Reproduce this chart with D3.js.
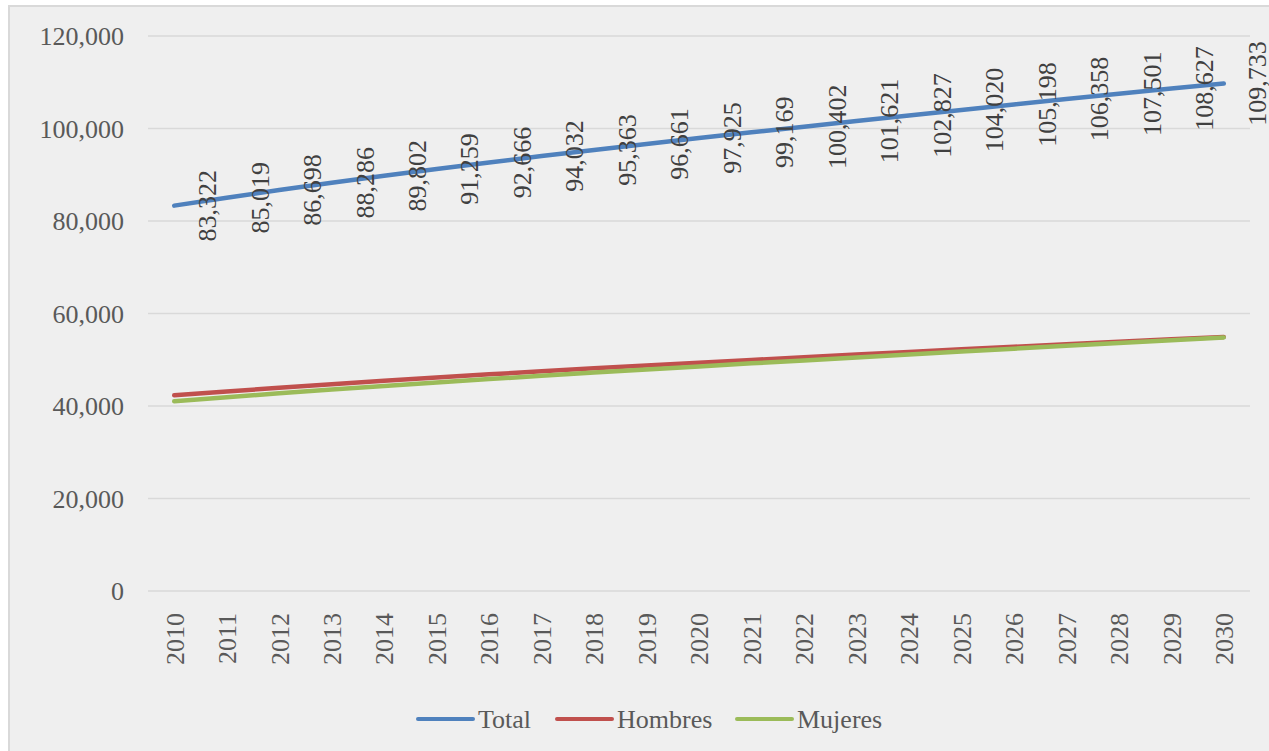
<!DOCTYPE html>
<html>
<head>
<meta charset="utf-8">
<script src="https://cdn.jsdelivr.net/npm/d3@7"></script>
<style>
  html, body { margin: 0; padding: 0; background: #ffffff; }
  svg { display: block; }
  text { font-family: "Liberation Serif", "DejaVu Serif", serif; }
</style>
</head>
<body>
<svg id="chart" width="1269" height="751"></svg>
<script>
const years = ["2010","2011","2012","2013","2014","2015","2016","2017","2018","2019","2020",
               "2021","2022","2023","2024","2025","2026","2027","2028","2029","2030"];
const total = [83322, 85019, 86698, 88286, 89802, 91259, 92666, 94032, 95363, 96661, 97925,
               99169, 100402, 101621, 102827, 104020, 105198, 106358, 107501, 108627, 109733];
const hombres = [42302, 43130, 43956, 44726, 45467, 46168, 46843, 47505, 48139, 48765, 49364,
                 49952, 50542, 51115, 51691, 52249, 52799, 53349, 53880, 54411, 54921];
const mujeres = [41020, 41889, 42742, 43560, 44335, 45091, 45823, 46527, 47224, 47896, 48561,
                 49217, 49860, 50506, 51136, 51771, 52399, 53009, 53621, 54216, 54812];
const yTicks = [0, 20000, 40000, 60000, 80000, 100000, 120000];
const seriesNames = ["Total", "Hombres", "Mujeres"];
const seriesColors = ["#4f81bd", "#c0504d", "#9bbb59"];

const svg = d3.select("#chart");
const W = 1269, H = 751;

// chart area background
svg.append("rect").attr("x", 9).attr("y", 6).attr("width", W + 10).attr("height", H + 10)
  .attr("fill", "#efefef").attr("stroke", "#d9d9d9").attr("stroke-width", 2);

const x = d3.scalePoint().domain(years).range([148, 1250]).padding(0.5);
const y = d3.scaleLinear().domain([0, 120000]).range([591, 36]);
const fmt = d3.format(",");

// gridlines
svg.append("g").selectAll("line").data(yTicks).join("line")
  .attr("x1", 148).attr("x2", 1250)
  .attr("y1", d => y(d)).attr("y2", d => y(d))
  .attr("stroke", "#d9d9d9").attr("stroke-width", 1.5);

// y axis labels
const yAxis = d3.axisLeft(y).tickValues(yTicks).tickFormat(fmt).tickSize(0).tickPadding(0);
const gy = svg.append("g").attr("transform", "translate(124,0)").call(yAxis);
gy.select(".domain").remove();
gy.selectAll("text").attr("font-size", 26).attr("fill", "#595959")
  .attr("font-family", "Liberation Serif, serif").attr("dy", "0.34em");

// x axis labels
const xAxis = d3.axisBottom(x).tickSize(0).tickPadding(0);
const gx = svg.append("g").attr("transform", "translate(0,591)").call(xAxis);
gx.select(".domain").remove();
gx.selectAll("text")
  .attr("font-size", 26).attr("fill", "#595959").attr("font-family", "Liberation Serif, serif")
  .attr("text-anchor", "end")
  .attr("transform", "translate(0,22) rotate(-90)")
  .attr("x", 0).attr("y", 0).attr("dy", "0.34em");

// lines
const allSeries = [total, hombres, mujeres];
const line = d3.line().x((d, i) => x(years[i])).y(d => y(d));
allSeries.forEach((s, k) => {
  svg.append("path").datum(s).attr("d", line)
    .attr("fill", "none").attr("stroke", seriesColors[k])
    .attr("stroke-width", 4.5).attr("stroke-linecap", "round").attr("stroke-linejoin", "round");
});

// data labels for Total
svg.append("g").selectAll("text").data(total).join("text")
  .attr("transform", (d, i) => `translate(${x(years[i]) + 33},${y(d)}) rotate(-90)`)
  .attr("text-anchor", "middle").attr("dy", "0.34em")
  .attr("font-size", 26).attr("fill", "#404040")
  .text(d => fmt(d));

// legend
const legendItems = [
  { name: seriesNames[0], color: seriesColors[0], x0: 418 },
  { name: seriesNames[1], color: seriesColors[1], x0: 557 },
  { name: seriesNames[2], color: seriesColors[2], x0: 737 }
];
const lg = svg.append("g");
legendItems.forEach(it => {
  lg.append("line").attr("x1", it.x0).attr("x2", it.x0 + 55).attr("y1", 719).attr("y2", 719)
    .attr("stroke", it.color).attr("stroke-width", 4).attr("stroke-linecap", "round");
  lg.append("text").attr("x", it.x0 + 60).attr("y", 719).attr("dy", "0.34em")
    .attr("font-size", 26).attr("fill", "#595959").text(it.name);
});
</script>
</body>
</html>
